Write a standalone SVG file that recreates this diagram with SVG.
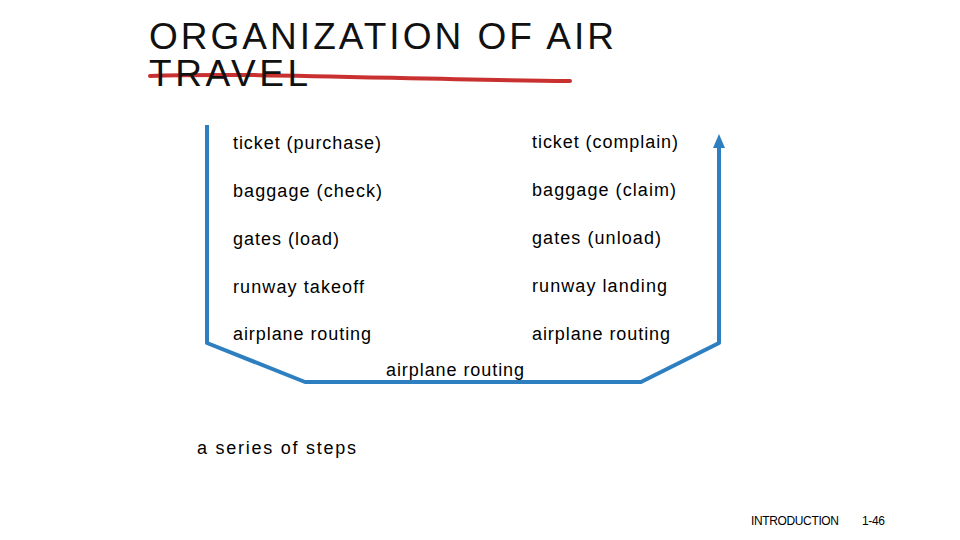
<svg xmlns="http://www.w3.org/2000/svg" width="960" height="540" viewBox="0 0 960 540">
<defs>
<style>
.t{font-family:"Liberation Sans",Arial,sans-serif;font-size:18px;fill:#000}
.s{font-family:"Liberation Sans",Arial,sans-serif;font-size:12px;fill:#000}
.h{font-family:"Liberation Sans",Arial,sans-serif;font-size:37px;fill:#111}
</style>
</defs>
<rect width="960" height="540" fill="#fff"/>
<g id="title">
<path d="M150,76 C250,72 420,80 570,81" stroke="#c8312f" stroke-width="4" fill="none" stroke-linecap="round"/>
<text class="h" x="149" y="49" textLength="465" lengthAdjust="spacing">ORGANIZATION OF AIR</text>
<text class="h" x="149" y="86" textLength="159" lengthAdjust="spacing">TRAVEL</text>
</g>
<g id="connectors">
<path d="M207,125 L207,343 L305,382 L641,382 L719,343 L719,144" stroke="#2e7fc0" stroke-width="4" fill="none" stroke-linejoin="round"/>
<path d="M713,148 L719,134 L725,148 Z" fill="#2e7fc0"/>
</g>
<g id="left">
<text class="t" x="233" y="149" textLength="148">ticket (purchase)</text>
<text class="t" x="233" y="197" textLength="149">baggage (check)</text>
<text class="t" x="233" y="245" textLength="106">gates (load)</text>
<text class="t" x="233" y="293" textLength="131">runway takeoff</text>
<text class="t" x="233" y="340" textLength="138">airplane routing</text>
</g>
<g id="right">
<text class="t" x="532" y="148" textLength="146">ticket (complain)</text>
<text class="t" x="532" y="196" textLength="144">baggage (claim)</text>
<text class="t" x="532" y="244" textLength="129">gates (unload)</text>
<text class="t" x="532" y="292" textLength="135">runway landing</text>
<text class="t" x="532" y="340" textLength="138">airplane routing</text>
</g>
<g id="bottom"><text class="t" x="386" y="376" textLength="138">airplane routing</text></g>
<g id="caption"><text class="t" x="197" y="454" textLength="159">a series of steps</text></g>
<g id="footer">
<text class="s" x="751" y="525" textLength="88">INTRODUCTION</text>
<text class="s" x="862" y="525" textLength="23">1-46</text>
</g>
</svg>
